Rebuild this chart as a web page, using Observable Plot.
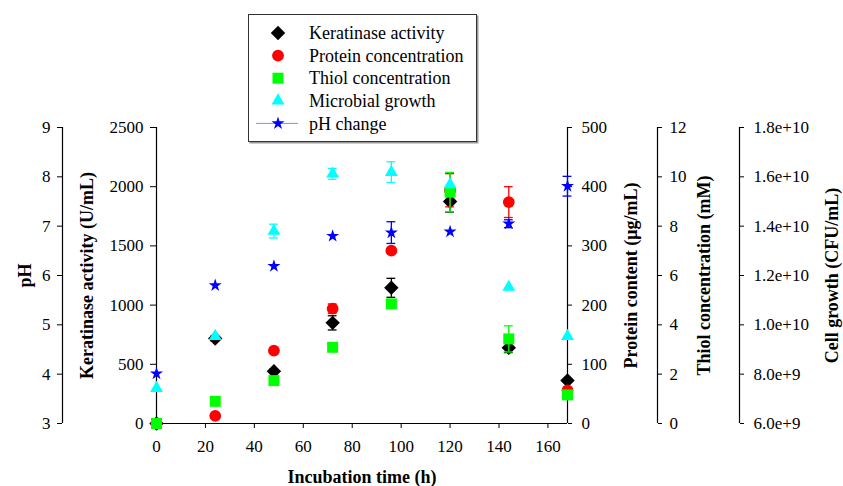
<!DOCTYPE html>
<html><head><meta charset="utf-8">
<script src="https://cdn.jsdelivr.net/npm/d3@7"></script>
<script src="https://cdn.jsdelivr.net/npm/@observablehq/plot@0.6"></script>
<style>
body{margin:0;background:#fff;}
#wrap{position:relative;width:843px;height:486px;font-family:"Liberation Serif","Times New Roman",serif;}
#legend{position:absolute;left:248px;top:14px;}
</style></head><body><div id="wrap"></div>
<script>
// ---- data ----
const time = [0, 24, 48, 72, 96, 120, 144, 168];            // h
const keratinase = [0, 718, 442, 850, 1146, 1875, 639, 363]; // U/mL
const keratinaseErr = [0, 20, 15, 60, 80, 90, 40, 0];
const protein = [0, 13, 123, 194, 292, 394, 374, 56];       // µg/mL
const proteinErr = [0, 0, 0, 8, 0, 28, 26, 0];
const thiol = [0, 0.90, 1.74, 3.09, 4.85, 9.38, 3.43, 1.16]; // mM
const thiolErr = [0, 0, 0, 0, 0, 0.8, 0.53, 0];
const cellGrowth = [7.43, 9.54, 13.8, 16.12, 16.19, 15.69, 11.53, 9.54]; // ×1e9 CFU/mL
const cellGrowthErr = [0, 0, 0.28, 0.22, 0.42, 0, 0, 0];
const pH = [4.01, 5.80, 6.19, 6.80, 6.87, 6.89, 7.05, 7.81];
const pHErr = [0, 0, 0, 0, 0.22, 0, 0.08, 0.2];

const seriesNames = ["Keratinase activity", "Protein concentration", "Thiol concentration", "Microbial growth", "pH change"];
const seriesColors = ["#000000", "#ff0000", "#00ff00", "#00ffff", "#0000ff"];

const xTicks = [0, 20, 40, 60, 80, 100, 120, 140, 160];
const pHTicks = [3, 4, 5, 6, 7, 8, 9];
const keratinaseTicks = [0, 500, 1000, 1500, 2000, 2500];
const proteinTicks = [0, 100, 200, 300, 400, 500];
const thiolTicks = [0, 2, 4, 6, 8, 10, 12];
const cellTicks = [6, 8, 10, 12, 14, 16, 18];
const cellTickLabels = ["6.0e+9", "8.0e+9", "1.0e+10", "1.2e+10", "1.4e+10", "1.6e+10", "1.8e+10"];

// ---- scale conversions onto the shared (keratinase) y scale ----
const K = 2500;
const conv = {
  keratinase: v => v,
  protein: v => v / 500 * K,
  thiol: v => v / 12 * K,
  cell: v => (v - 6) / 12 * K,
  pH: v => (v - 3) / 6 * K
};

const series = [
  {values: keratinase, errs: keratinaseErr, c: conv.keratinase, symbol: "diamond2", r: 6.5},
  {values: protein, errs: proteinErr, c: conv.protein, symbol: "circle", r: 5.9},
  {values: thiol, errs: thiolErr, c: conv.thiol, symbol: "square", r: 6.2},
  {values: cellGrowth, errs: cellGrowthErr, c: conv.cell, symbol: "triangle", r: 4.8},
  {values: pH, errs: pHErr, c: conv.pH, symbol: "star", r: 4.1}
];

const capHalf = 1.8; // h
const marks = [];
series.forEach((s, si) => {
  const rows = time.map((t, i) => ({t, y: s.c(s.values[i]), y1: s.c(s.values[i] - s.errs[i]), y2: s.c(s.values[i] + s.errs[i]), e: s.errs[i]}));
  const er = rows.filter(d => d.e > 0);
  const col = seriesColors[si];
  marks.push(Plot.ruleX(er, {x: "t", y1: "y1", y2: "y2", stroke: col, strokeWidth: 1.3}));
  marks.push(Plot.ruleY(er, {y: "y1", x1: d => d.t - capHalf, x2: d => d.t + capHalf, stroke: col, strokeWidth: 1.3}));
  marks.push(Plot.ruleY(er, {y: "y2", x1: d => d.t - capHalf, x2: d => d.t + capHalf, stroke: col, strokeWidth: 1.3}));
  marks.push(Plot.dot(rows, {x: "t", y: "y", symbol: s.symbol, r: s.r, fill: col, stroke: null}));
});

function yAxis(ticks, labels, c, anchor, dx, tickSize, tickPadding) {
  const pos = ticks.map(c);
  const lab = new Map(pos.map((p, i) => [p, labels[i]]));
  return [
    Plot.ruleX([anchor === "left" ? 0 : 168], {y1: 0, y2: K, dx, stroke: "#000", strokeWidth: 1.2}),
    Plot.axisY(pos, {anchor, dx, tickSize, tickPadding, tickFormat: d => lab.get(d), label: null, fontSize: 17})
  ];
}

const axisLabels = [
  {t: "pH", anchor: "left", x: 25},
  {t: "Keratinase activity (U/mL)", anchor: "left", x: 87},
  {t: "Protein content (μg/mL)", anchor: "right", x: 631},
  {t: "Thiol concentration (mM)", anchor: "right", x: 704},
  {t: "Cell growth (CFU/mL)", anchor: "right", x: 832}
];

const chart = Plot.plot({
  width: 843, height: 486,
  marginLeft: 156, marginRight: 276, marginTop: 127, marginBottom: 63,
  x: {domain: [0, 168]},
  y: {domain: [0, K]},
  style: {fontFamily: "'Liberation Serif','Times New Roman',serif", fontSize: "17px", color: "#000", background: "transparent"},
  marks: [
    Plot.ruleY([0], {stroke: "#000", strokeWidth: 1.2}),
    Plot.axisX(xTicks, {tickSize: 5, tickPadding: 11, label: null, fontSize: 17}),
    ...yAxis(pHTicks, pHTicks.map(String), conv.pH, "left", -94, 5, 7),
    ...yAxis(keratinaseTicks, keratinaseTicks.map(String), conv.keratinase, "left", 0, 6, 7),
    ...yAxis(proteinTicks, proteinTicks.map(String), conv.protein, "right", 0, 4, 10),
    ...yAxis(thiolTicks, thiolTicks.map(String), conv.thiol, "right", 90, 4, 8),
    ...yAxis(cellTicks, cellTickLabels, conv.cell, "right", 172, 4, 10),
    ...axisLabels.map(a => Plot.text([a.t], {text: d => d, frameAnchor: a.anchor, dx: a.x - (a.anchor === "left" ? 156 : 567), rotate: -90, textAnchor: "middle", lineAnchor: "middle", fontWeight: "bold", fontSize: 18})),
    Plot.text(["Incubation time (h)"], {text: d => d, frameAnchor: "bottom", dy: 54, textAnchor: "middle", lineAnchor: "middle", fontWeight: "bold", fontSize: 18}),
    ...marks
  ]
});
const wrap = document.getElementById("wrap");
wrap.appendChild(chart);

// ---- legend ----
const lw = 229, lh = 128;
const leg = d3.select(wrap).append("svg").attr("id", "legend").attr("width", lw + 2).attr("height", lh + 2);
leg.append("rect").attr("x", 1.5).attr("y", 1.5).attr("width", lw).attr("height", lh).attr("fill", "#999");
leg.append("rect").attr("x", 0.5).attr("y", 0.5).attr("width", lw - 1).attr("height", lh - 1).attr("fill", "#fff").attr("stroke", "#333");
const symMap = {diamond2: d3.symbolDiamond2, circle: d3.symbolCircle, square: d3.symbolSquare, triangle: d3.symbolTriangle, star: d3.symbolStar};
seriesNames.forEach((name, i) => {
  const y = 19 + 22.6 * i;
  if (i === 4) leg.append("line").attr("x1", 8).attr("x2", 50).attr("y1", y).attr("y2", y).attr("stroke", "#8a8aff").attr("stroke-width", 1);
  leg.append("path").attr("transform", `translate(30,${y})`)
    .attr("d", d3.symbol(symMap[series[i].symbol], Math.PI * series[i].r ** 2)()).attr("fill", seriesColors[i]);
  leg.append("text").attr("x", 61).attr("y", y).attr("dy", "0.34em").attr("font-size", 18)
    .attr("font-family", "'Liberation Serif','Times New Roman',serif").text(name);
});
</script></body></html>
